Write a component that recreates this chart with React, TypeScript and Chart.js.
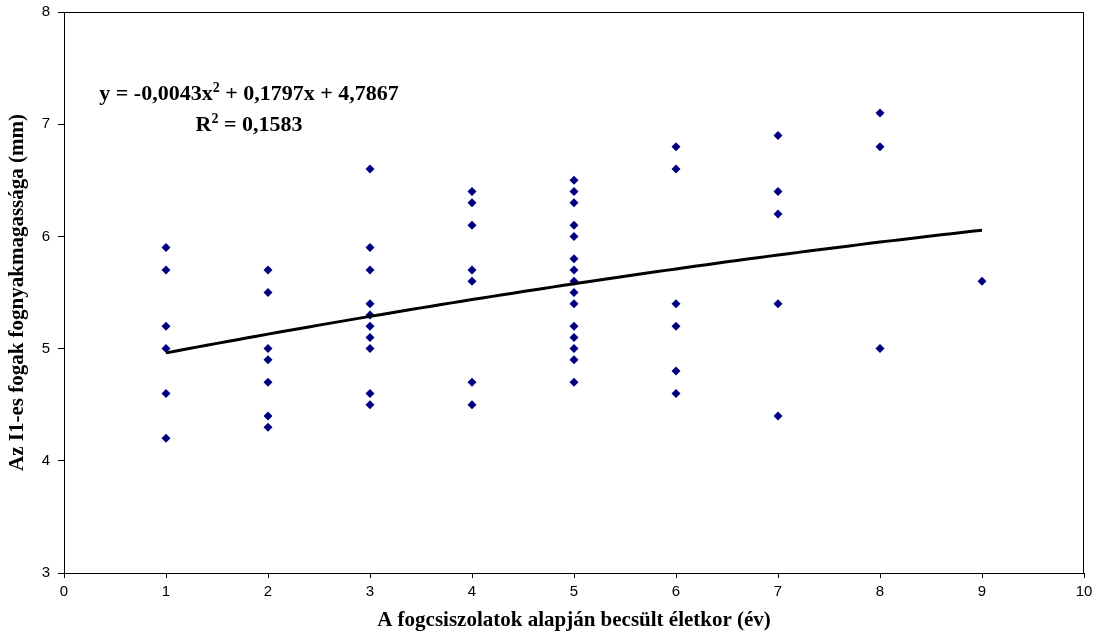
import React, { useEffect, useRef } from "react";
import { Chart, registerables } from "chart.js";

Chart.register(...registerables);

// Estimated age groups (years) and measured cervical heights of I1 teeth (mm)
const ages = [1, 2, 3, 4, 5, 6, 7, 8, 9];
const heightsAge1 = [5.9, 5.7, 5.2, 5.0, 4.6, 4.2];
const heightsAge2 = [5.7, 5.5, 5.0, 4.9, 4.7, 4.4, 4.3];
const heightsAge3 = [6.6, 5.9, 5.7, 5.4, 5.3, 5.2, 5.1, 5.0, 4.6, 4.5];
const heightsAge4 = [6.4, 6.3, 6.1, 5.7, 5.6, 4.7, 4.5];
const heightsAge5 = [6.5, 6.4, 6.3, 6.1, 6.0, 5.8, 5.7, 5.6, 5.5, 5.4, 5.2, 5.1, 5.0, 4.9, 4.7];
const heightsAge6 = [6.8, 6.6, 5.4, 5.2, 4.8, 4.6];
const heightsAge7 = [6.9, 6.4, 6.2, 5.4, 4.4];
const heightsAge8 = [7.1, 6.8, 5.0];
const heightsAge9 = [5.6];
const heightsByAge = [
  heightsAge1, heightsAge2, heightsAge3, heightsAge4, heightsAge5,
  heightsAge6, heightsAge7, heightsAge8, heightsAge9,
];

// Polynomial trend line coefficients (2nd order)
const trendA = -0.0043;
const trendB = 0.1797;
const trendC = 4.7867;
const trendFrom = 1;
const trendTo = 9;
const equationText = ["y = -0,0043x", "2", " + 0,1797x + 4,7867"];
const r2Text = ["R", "2", " = 0,1583"];

const xTicks = { min: 0, max: 10, step: 1 };
const yTicks = { min: 3, max: 8, step: 1 };

const serif = "'Liberation Serif', 'Times New Roman', serif";
const sans = "'Liberation Sans', Arial, sans-serif";

function drawSup(ctx: CanvasRenderingContext2D, parts: string[], cx: number, baseline: number) {
  const big = `bold 22px ${serif}`;
  const small = `bold 14px ${serif}`;
  ctx.font = big;
  const w0 = ctx.measureText(parts[0]).width;
  const w2 = ctx.measureText(parts[2]).width;
  ctx.font = small;
  const w1 = ctx.measureText(parts[1]).width;
  let x = cx - (w0 + w1 + w2) / 2;
  ctx.textAlign = "left";
  ctx.textBaseline = "alphabetic";
  ctx.fillStyle = "#000";
  ctx.font = big;
  ctx.fillText(parts[0], x, baseline);
  x += w0;
  ctx.font = small;
  ctx.fillText(parts[1], x, baseline - 8);
  x += w1;
  ctx.font = big;
  ctx.fillText(parts[2], x, baseline);
}

const framePlugin = {
  id: "frameAndEquation",
  afterDraw(chart: any) {
    const { ctx, chartArea } = chart;
    ctx.save();
    ctx.strokeStyle = "#000";
    ctx.lineWidth = 1;
    ctx.strokeRect(chartArea.left + 0.5, chartArea.top + 0.5, chartArea.right - chartArea.left - 1, chartArea.bottom - chartArea.top);
    drawSup(ctx, equationText, 249, 100);
    drawSup(ctx, r2Text, 249, 131);
    ctx.restore();
  },
};

export default function App() {
  const ref = useRef<HTMLCanvasElement>(null);

  useEffect(() => {
    if (!ref.current) return;
    const points: { x: number; y: number }[] = [];
    ages.forEach((age, i) => heightsByAge[i].forEach((h) => points.push({ x: age, y: h })));
    const trend: { x: number; y: number }[] = [];
    for (let i = 0; i <= 80; i++) {
      const x = trendFrom + ((trendTo - trendFrom) * i) / 80;
      trend.push({ x, y: trendA * x * x + trendB * x + trendC });
    }

    const chart = new Chart(ref.current, {
      type: "scatter",
      data: {
        datasets: [
          {
            type: "line",
            data: trend,
            borderColor: "#000",
            borderWidth: 3,
            pointRadius: 0,
            fill: false,
            order: 0,
          } as any,
          {
            data: points,
            pointStyle: "rectRot",
            pointRadius: 4.5,
            backgroundColor: "#000080",
            borderColor: "#000080",
            borderWidth: 0,
            order: 1,
          },
        ],
      },
      options: {
        animation: false,
        responsive: true,
        maintainAspectRatio: false,
        layout: { padding: { top: 12, right: 15, left: 0, bottom: 0 } },
        plugins: { legend: { display: false }, tooltip: { enabled: false } },
        scales: {
          x: {
            type: "linear",
            min: xTicks.min,
            max: xTicks.max,
            afterFit: (s: any) => { s.height = 66; s.paddingLeft = 0; s.paddingRight = 0; },
            ticks: { stepSize: xTicks.step, color: "#000", font: { family: sans, size: 15 }, padding: 5 },
            grid: { drawOnChartArea: false, tickLength: 5, color: "#000" },
            border: { color: "#000" },
            title: {
              display: true,
              text: "A fogcsiszolatok alapján becsült életkor (év)",
              color: "#000",
              font: { family: serif, size: 21, weight: "bold" },
              padding: { top: 0, bottom: 6 },
            },
          },
          y: {
            type: "linear",
            min: yTicks.min,
            max: yTicks.max,
            afterFit: (s: any) => { s.width = 64; s.paddingTop = 0; s.paddingBottom = 0; },
            ticks: { stepSize: yTicks.step, color: "#000", font: { family: sans, size: 15 }, padding: 8 },
            grid: { drawOnChartArea: false, tickLength: 6, color: "#000" },
            border: { color: "#000" },
            title: {
              display: true,
              text: "Az I1-es fogak fognyakmagassága (mm)",
              color: "#000",
              font: { family: serif, size: 21, weight: "bold" },
              padding: { top: 5, bottom: 0 },
            },
          },
        },
      },
      plugins: [framePlugin],
    });
    return () => chart.destroy();
  }, []);

  return (
    <div style={{ position: "absolute", left: 0, top: 0, width: 1099, height: 639, background: "#fff" }}>
      <canvas ref={ref} />
    </div>
  );
}
